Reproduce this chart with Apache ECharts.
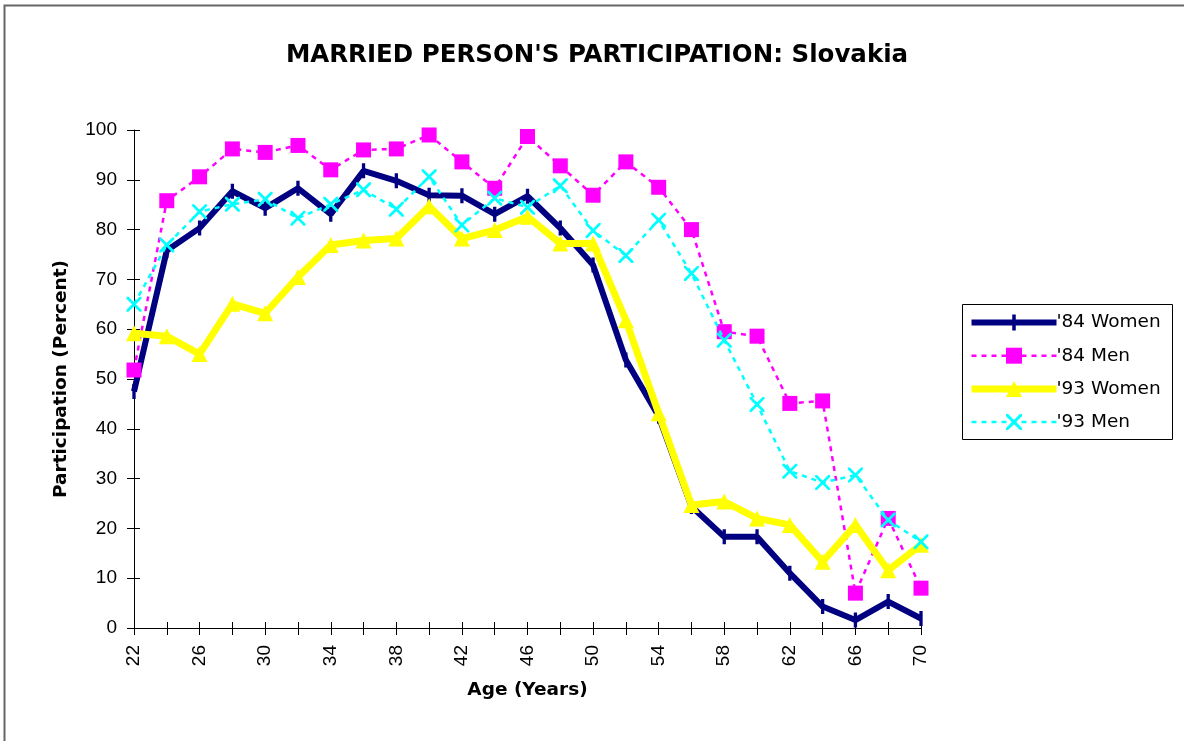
<!DOCTYPE html>
<html>
<head>
<meta charset="utf-8">
<script src="https://cdn.jsdelivr.net/npm/echarts@6/dist/echarts.min.js"></script>
<style>
html,body{margin:0;padding:0;background:#fff;}
#chart{width:1184px;height:741px;}
</style>
</head>
<body>
<div id="chart"></div>
<script>
var ages = ['22','24','26','28','30','32','34','36','38','40','42','44','46','48','50','52','54','56','58','60','62','64','66','68','70'];
var women84 = [47.5, 75.8, 80.3, 87.7, 84.3, 88.3, 83.1, 91.8, 89.8, 86.9, 86.8, 83.1, 86.7, 80.3, 72.9, 53.8, 42.5, 24.4, 18.3, 18.3, 11.0, 4.3, 1.6, 5.3, 1.9];
var men84 = [51.8, 85.8, 90.6, 96.2, 95.5, 96.9, 92.0, 96.0, 96.2, 99.0, 93.6, 88.3, 98.7, 92.8, 86.9, 93.6, 88.5, 80.0, 59.5, 58.6, 45.1, 45.6, 7.0, 22.0, 8.0];
var women93 = [59.2, 58.6, 55.0, 65.1, 63.2, 70.5, 76.9, 77.8, 78.2, 84.7, 78.2, 79.9, 82.6, 77.2, 77.2, 61.8, 43.1, 24.7, 25.4, 22.0, 20.7, 13.3, 20.7, 11.6, 16.7];
var men93 = [65.0, 76.9, 83.6, 85.1, 86.1, 82.3, 85.1, 88.0, 84.1, 90.6, 80.9, 86.3, 84.5, 88.8, 79.8, 74.8, 81.9, 71.2, 57.8, 44.9, 31.5, 29.2, 30.7, 21.7, 17.3];
var seriesNames = ["'84 Women", "'84 Men", "'93 Women", "'93 Men"];
var yTicks = [0,10,20,30,40,50,60,70,80,90,100];

var FONT = '"Liberation Sans", Arial, sans-serif';
var WIDE = '"DejaVu Sans", Verdana, sans-serif';
var xMark = 'path://M0,0 L2.6,0 L10,7.4 L17.4,0 L20,0 L20,2.6 L12.6,10 L20,17.4 L20,20 L17.4,20 L10,12.6 L2.6,20 L0,20 L0,17.4 L7.4,10 L0,2.6 Z';
var dashMark = 'path://M0,0 L0.01,0 L0.01,0.01 Z M7.8,0 L12.2,0 L12.2,20 L7.8,20 Z M19.99,19.99 L20,19.99 L20,20 Z';

var chart = echarts.init(document.getElementById('chart'));
chart.setOption({
  backgroundColor: '#fff',
  animation: false,
  graphic: [
    {type:'rect', shape:{x:4.5, y:5.5, width:1200, height:800}, style:{fill:'none', stroke:'#666', lineWidth:2}, silent:true},
    {type:'rect', shape:{x:962.5, y:304.5, width:210, height:135}, style:{fill:'#fff', stroke:'#000', lineWidth:1}, z:0, silent:true},
    {type:'text', x:597, y:56, style:{text:"MARRIED PERSON'S PARTICIPATION: Slovakia", textAlign:'center', textVerticalAlign:'middle', font:'bold 24.5px ' + WIDE, fill:'#000'}}
  ],
  legend: {
    orient: 'vertical',
    left: 968, top: 313,
    itemWidth: 85, itemHeight: 20, itemGap: 14.2,
    padding: 0,
    lineStyle: {width: 'inherit'},
    textStyle: {fontFamily: WIDE, fontSize: 18.5, color: '#000', padding: [0,0,0,-5]},
    data: seriesNames,
    z: 5
  },
  grid: {left:134, right:263, top:130, bottom:113, containLabel:false},
  xAxis: [
    {
      type:'category', data: ages, boundaryGap:false, position:'bottom',
      axisLine:{show:true, lineStyle:{color:'#000', width:1}},
      axisTick:{show:true, interval:0, inside:false, length:7, lineStyle:{color:'#000'}},
      axisLabel:{interval:1, rotate:90, margin:17, fontFamily:FONT, fontSize:19, color:'#000'},
      name:'Age (Years)', nameLocation:'middle', nameGap:53,
      nameTextStyle:{fontFamily:WIDE, fontSize:18.5, fontWeight:'bold', color:'#000'}
    },
    {
      type:'category', data: ages, boundaryGap:false, position:'bottom',
      axisLine:{show:false},
      axisTick:{show:true, interval:0, inside:true, length:6, lineStyle:{color:'#000'}},
      axisLabel:{show:false}, splitLine:{show:false}
    }
  ],
  yAxis: [
    {
      type:'value', min:0, max:100, interval:10,
      axisLine:{show:true, lineStyle:{color:'#000', width:1}},
      axisTick:{show:true, inside:false, length:7, lineStyle:{color:'#000'}},
      splitLine:{show:false},
      axisLabel:{margin:17, fontFamily:FONT, fontSize:19, color:'#000',
        formatter:function(v){return yTicks.indexOf(v)>=0 ? String(v) : '';}},
      name:'Participation (Percent)', nameLocation:'middle', nameGap:63,
      nameTextStyle:{fontFamily:WIDE, fontSize:18.5, fontWeight:'bold', color:'#000'}
    },
    {
      type:'value', min:0, max:100, interval:10, position:'left',
      axisLine:{show:false},
      axisTick:{show:true, inside:true, length:6, lineStyle:{color:'#000'}},
      axisLabel:{show:false}, splitLine:{show:false}
    }
  ],
  series: [
    {
      name: seriesNames[0], type:'line', data: women84,
      symbol: dashMark, symbolSize:15, showAllSymbol:true,
      lineStyle:{color:'#000080', width:6},
      itemStyle:{color:'#000080', borderWidth:0}, z:2
    },
    {
      name: seriesNames[1], type:'line', data: men84,
      symbol:'rect', symbolSize:15, showAllSymbol:true,
      lineStyle:{color:'#FF00FF', width:2.5, type:[5,5]},
      itemStyle:{color:'#FF00FF', borderWidth:0}, z:3
    },
    {
      name: seriesNames[2], type:'line', data: women93,
      symbol:'triangle', symbolSize:16, showAllSymbol:true,
      lineStyle:{color:'#FFFF00', width:7},
      itemStyle:{color:'#FFFF00', borderWidth:0}, z:4
    },
    {
      name: seriesNames[3], type:'line', data: men93,
      symbol: xMark, symbolSize:15, showAllSymbol:true,
      lineStyle:{color:'#00FFFF', width:2.5, type:[5,5]},
      itemStyle:{color:'#00FFFF', borderWidth:0}, z:5
    }
  ]
});
</script>
</body>
</html>
